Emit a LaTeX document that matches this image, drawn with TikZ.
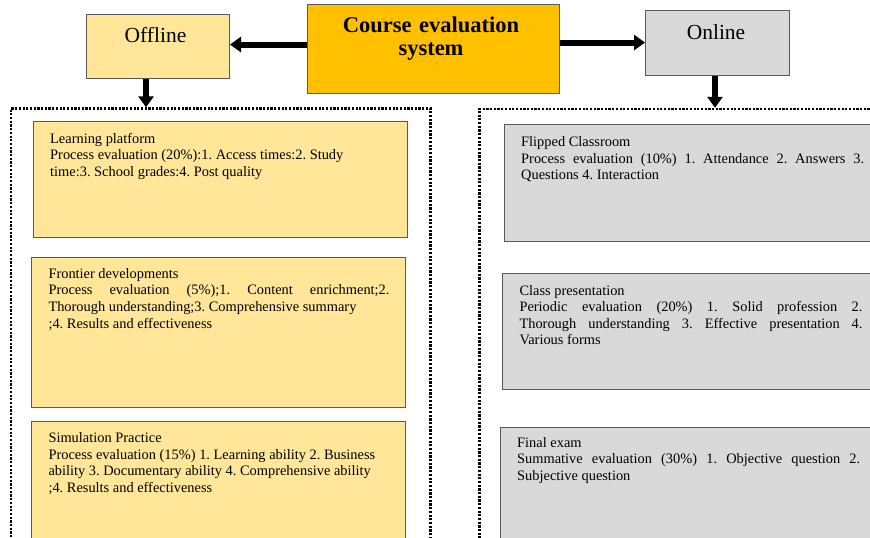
\documentclass[tikz,border=0pt]{standalone}
\usepackage{fontspec}
\setmainfont{Liberation Serif}
\usetikzlibrary{arrows.meta}
\definecolor{offy}{HTML}{FFE699}
\definecolor{ong}{HTML}{D9D9D9}
\definecolor{cor}{HTML}{FFC000}
\definecolor{bord}{HTML}{595959}
\hbadness=10000
\frenchspacing
\tikzset{
  topbox/.style={draw=bord, line width=1pt, inner sep=0pt, anchor=north west},
  cbox/.style={draw=bord, line width=1.1pt, inner sep=0pt, anchor=north west},
  dotbox/.style={draw=black, line width=2.2pt, dash pattern=on 2.2pt off 1.5pt, inner sep=0pt, anchor=north west},
  toptxt/.style={inner sep=0pt, anchor=base, font=\fontsize{21.5}{24.7}\selectfont},
  ctxt/.style={inner sep=0pt, anchor=base west, align=justify, font=\fontsize{14.4}{16.6}\selectfont\frenchspacing},
  bigarrow/.style={draw=black, line width=6pt, -{Triangle[width=15pt,length=11pt]}},
}
\begin{document}
\begin{tikzpicture}[x=1pt,y=-1pt]
\useasboundingbox (0,0) rectangle (870,538);
\clip (0,0) rectangle (870,538);
% top boxes
\node[topbox, fill=offy, minimum width=143pt, minimum height=64pt] (off) at (86,14) {};
\node[topbox, fill=cor, minimum width=252pt, minimum height=88.5pt] (ces) at (307,4.3) {};
\node[topbox, fill=ong, minimum width=144pt, minimum height=65pt] (onl) at (645,10) {};
\node[toptxt] (offt) at (155.5,42.5) {Offline};
\node[toptxt, text width=250pt, align=center, font=\fontsize{22.5}{22.7}\selectfont\bfseries] (cest) at (431,32.3) {Course evaluation\\system};
\node[toptxt] (onlt) at (716,39) {Online};
% dotted containers
\node[dotbox, minimum width=419.3pt, minimum height=470pt] (lbox) at (10,107.3) {};
\node[dotbox, minimum width=430pt, minimum height=470pt] (rbox) at (478.3,107.8) {};
% arrows
\draw[bigarrow] ([yshift=4.5pt]ces.west) -- ([yshift=4.5pt]ces.west -| off.east);
\draw[bigarrow] ([yshift=6.5pt]ces.east) -- ([yshift=6.5pt]ces.east -| onl.west);
\draw[bigarrow] ([xshift=-12pt]off.south) -- ([xshift=-12pt]off.south |- lbox.north);
\draw[bigarrow] ([xshift=-2.5pt]onl.south) -- ([xshift=-2.5pt]onl.south |- rbox.north);
% left content boxes
\node[cbox, fill=offy, minimum width=374pt, minimum height=116pt] (lp) at (33.3,120.7) {};
\node[cbox, fill=offy, minimum width=373.4pt, minimum height=150pt] (fd) at (31.3,256.7) {};
\node[cbox, fill=offy, minimum width=373.4pt, minimum height=150pt] (sp) at (31.3,420.7) {};
% right content boxes
\node[cbox, fill=ong, minimum width=400pt, minimum height=116.7pt] (fc) at (504.3,124.3) {};
\node[cbox, fill=ong, minimum width=400pt, minimum height=115.7pt] (cp) at (502.3,273.3) {};
\node[cbox, fill=ong, minimum width=400pt, minimum height=150pt] (fe) at (499.7,427.3) {};
% texts
\node[ctxt, text width=340pt] (lpt) at (50,143.3) {Learning platform\\
Process evaluation (20\%):1. Access times:2. Study\\
time:3. School grades:4. Post quality};
\node[ctxt, text width=341pt] (fdt) at (48.3,278.3) {Frontier developments\\
Process evaluation (5\%);1. Content enrichment;2.\linebreak
Thorough understanding;3. Comprehensive summary\\
;4. Results and effectiveness};
\node[ctxt, text width=341pt] (spt) at (48.3,442.7) {Simulation Practice\\
Process evaluation (15\%) 1. Learning ability 2. Business\\
ability 3. Documentary ability 4. Comprehensive ability\\
;4. Results and effectiveness};
\node[ctxt, text width=343pt] (fct) at (521,146.7) {Flipped Classroom\\
Process evaluation (10\%) 1. Attendance 2. Answers 3.\linebreak
Questions 4. Interaction};
\node[ctxt, text width=343pt] (cpt) at (519.3,295) {Class presentation\\
Periodic evaluation (20\%) 1. Solid profession 2.\linebreak
Thorough understanding 3. Effective presentation 4.\linebreak
Various forms};
\node[ctxt, text width=343pt] (fet) at (517,447.3) {Final exam\\
Summative evaluation (30\%) 1. Objective question 2.\linebreak
Subjective question};
\end{tikzpicture}
\end{document}
